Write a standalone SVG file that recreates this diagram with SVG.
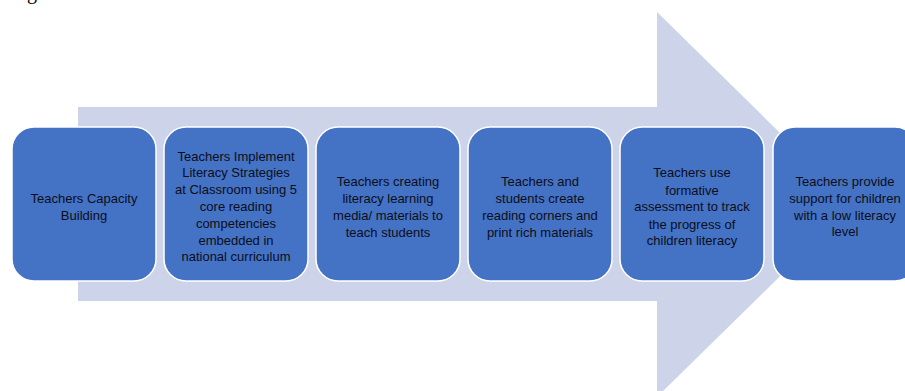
<svg xmlns="http://www.w3.org/2000/svg" width="905" height="391" viewBox="0 0 905 391">
<style>
.box{fill:#4472C4;stroke:#FFFFFF;stroke-width:1.5}
.lbl{font-family:"Liberation Sans",Arial,sans-serif;font-size:13px;fill:#0c0e1a;text-anchor:middle}
.arrow{fill:#CDD4EA}
</style>
<rect width="905" height="391" fill="#FFFFFF"/>
<text x="27" y="-1" font-family="Liberation Serif, Times New Roman, serif" font-size="20" fill="#000">g</text>
<g id="connectors">
<path class="arrow" d="M78,107 L657,107 L657,12 L853,204.5 L657,397 L657,301 L78,301 Z"/>
</g>
<g id="n1">
<rect class="box" x="12" y="127" width="144" height="154" rx="22" ry="22"/>
<text class="lbl" x="84" y="202.5">Teachers Capacity</text>
<text class="lbl" x="84" y="219.5">Building</text>
</g>
<g id="n2">
<rect class="box" x="164" y="127" width="144" height="154" rx="22" ry="22"/>
<text class="lbl" x="236" y="160.5">Teachers Implement</text>
<text class="lbl" x="236" y="177">Literacy Strategies</text>
<text class="lbl" x="236" y="194">at Classroom using 5</text>
<text class="lbl" x="236" y="211">core reading</text>
<text class="lbl" x="236" y="228">competencies</text>
<text class="lbl" x="236" y="244.5">embedded in</text>
<text class="lbl" x="236" y="261">national curriculum</text>
</g>
<g id="n3">
<rect class="box" x="316" y="127" width="144" height="154" rx="22" ry="22"/>
<text class="lbl" x="388" y="186">Teachers creating</text>
<text class="lbl" x="388" y="203">literacy learning</text>
<text class="lbl" x="388" y="220">media/ materials to</text>
<text class="lbl" x="388" y="236.5">teach students</text>
</g>
<g id="n4">
<rect class="box" x="468" y="127" width="144" height="154" rx="22" ry="22"/>
<text class="lbl" x="540" y="186">Teachers and</text>
<text class="lbl" x="540" y="203">students create</text>
<text class="lbl" x="540" y="220">reading corners and</text>
<text class="lbl" x="540" y="236.5">print rich materials</text>
</g>
<g id="n5">
<rect class="box" x="620" y="127" width="144" height="154" rx="22" ry="22"/>
<text class="lbl" x="692" y="177">Teachers use</text>
<text class="lbl" x="692" y="195">formative</text>
<text class="lbl" x="692" y="211">assessment to track</text>
<text class="lbl" x="692" y="228.5">the progress of</text>
<text class="lbl" x="692" y="245">children literacy</text>
</g>
<g id="n6">
<rect class="box" x="773" y="127" width="144" height="154" rx="22" ry="22"/>
<text class="lbl" x="845" y="186">Teachers provide</text>
<text class="lbl" x="845" y="203">support for children</text>
<text class="lbl" x="845" y="219.5">with a low literacy</text>
<text class="lbl" x="845" y="236">level</text>
</g>
</svg>
